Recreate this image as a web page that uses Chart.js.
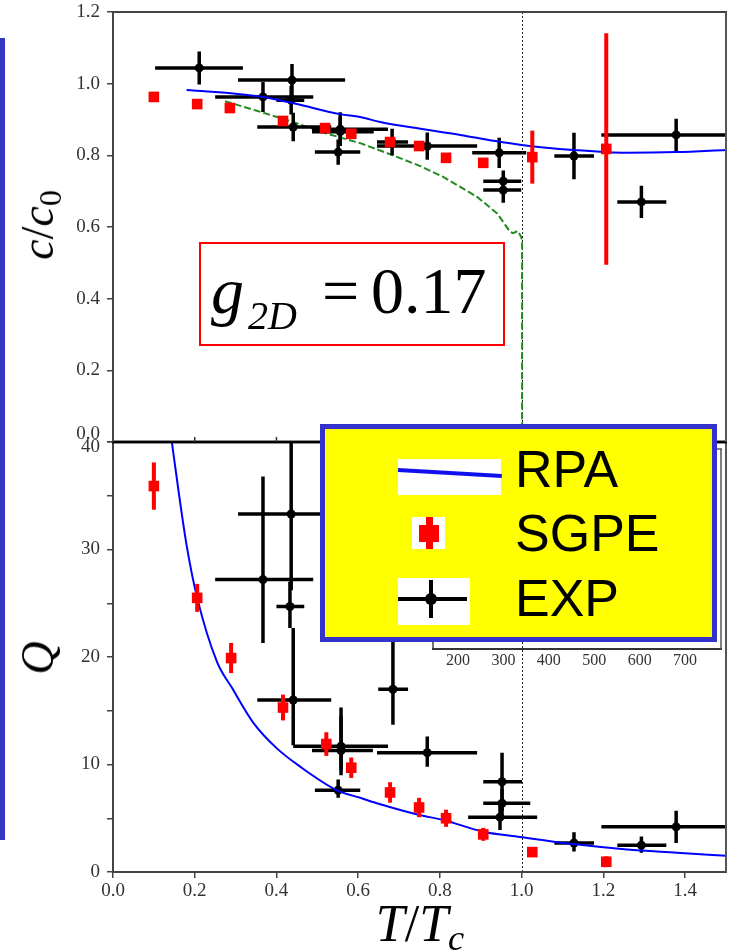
<!DOCTYPE html>
<html>
<head>
<meta charset="utf-8">
<script src="https://cdn.jsdelivr.net/npm/chart.js@4.4.1/dist/chart.umd.min.js"></script>
<style>
  html, body { margin: 0; padding: 0; background: #fff; }
  body { width: 734px; height: 952px; position: relative; overflow: hidden; font-family: "Liberation Serif", serif; }
  canvas, .abs { position: absolute; }
  #cBot { left: 0; top: 430px; }
  #cTop { left: 0; top: 0; }
  #cInset { left: 423px; top: 440px; }
  .serif { font-family: "Liberation Serif", serif; line-height: 1; white-space: nowrap; color: #000; }
  .sans { font-family: "Liberation Sans", Arial, sans-serif; line-height: 1; white-space: nowrap; color: #000; font-size: 52px; }
  sub { font-size: 0.7em; vertical-align: -0.25em; line-height: 0; }
  .ytitle { font-size: 46px; transform: translate(-50%, -50%) rotate(-90deg); }
  #sidebar { left: 0; top: 38px; width: 5px; height: 802px; background: #3636c6; }
  #g2d { left: 199px; top: 242px; width: 306px; height: 104px; border: 2px solid #ff0000; box-sizing: border-box; }
  #legend { left: 320px; top: 424px; width: 397px; height: 218px; border: 5px solid #3333cc; background: #ffff00; box-sizing: border-box; }
  .white { background: #fff; }
</style>
</head>
<body>
<canvas id="cBot" width="734" height="522"></canvas>
<canvas id="cTop" width="734" height="470"></canvas>
<canvas id="cInset" width="310" height="240"></canvas>

<div id="sidebar" class="abs"></div>

<div class="abs serif ytitle" style="left:38px; top:225px;"><i>c</i>/<i>c</i><sub>0</sub></div>
<div class="abs serif ytitle" style="left:38px; top:658px;"><i>Q</i></div>
<div class="abs serif" style="left:420px; top:898px; font-size:52px; transform: translateX(-50%);"><i>T</i>/<i>T<sub>c</sub></i></div>

<div id="g2d" class="abs"></div>
<span class="abs serif" style="left:211px; top:258px; font-size:66px;"><i>g</i></span>
<span class="abs serif" style="left:248px; top:296px; font-size:40px;"><i>2D</i></span>
<span class="abs serif" style="left:322px; top:258px; font-size:66px;">=</span>
<span class="abs serif" style="left:371px; top:258px; font-size:66px;">0.17</span>

<div id="legend" class="abs"></div>
<div class="abs white" style="left:398px; top:459px; width:103px; height:36px;"></div>
<div class="abs" style="left:398px; top:468px; width:104px; height:4px; background:#1010ee; transform-origin:left center; transform:rotate(3.3deg);"></div>
<div class="abs white" style="left:412px; top:517px; width:33px; height:32px;"></div>
<div class="abs" style="left:419px; top:525px; width:20px; height:17px; background:#ff0000;"></div>
<div class="abs" style="left:426px; top:517px; width:7px; height:32px; background:#ff0000;"></div>
<div class="abs white" style="left:398px; top:578px; width:72px; height:47px;"></div>
<div class="abs" style="left:398px; top:597px; width:69px; height:4px; background:#000;"></div>
<div class="abs" style="left:429px; top:580px; width:4px; height:38px; background:#000;"></div>
<div class="abs" style="left:425px; top:593px; width:12px; height:12px; background:#000; border-radius:50%;"></div>
<span class="abs sans" style="left:515px; top:443px;">RPA</span>
<span class="abs sans" style="left:515px; top:507px;">SGPE</span>
<span class="abs sans" style="left:515px; top:572px;">EXP</span>

<script>
// tick values and labels
const xTicks = [0, 0.2, 0.4, 0.6, 0.8, 1.0, 1.2, 1.4];
const xTickLabels = ['0.0', '0.2', '0.4', '0.6', '0.8', '1.0', '1.2', '1.4'];
const cTicks = [0, 0.2, 0.4, 0.6, 0.8, 1.0, 1.2];
const cTickLabels = ['0.0', '0.2', '0.4', '0.6', '0.8', '1.0', '1.2'];
const qTicks = [0, 5, 10, 15, 20, 25, 30, 35, 40];
const qTickLabels = ['0', '', '10', '', '20', '', '30', '', '40'];
const insetTicks = [200, 300, 400, 500, 600, 700];
const tcLine = 1.0;

// top panel: c/c0
const rpaTopT = [0.18, 0.25, 0.30, 0.367, 0.45, 0.556, 0.605, 0.654, 0.752, 0.85, 0.93, 1.0, 1.126, 1.258, 1.38, 1.5];
const rpaTopC = [0.982, 0.977, 0.972, 0.963, 0.943, 0.915, 0.907, 0.893, 0.874, 0.857, 0.841, 0.829, 0.815, 0.807, 0.809, 0.815];

const greenT = [0.274, 0.35, 0.441, 0.519, 0.605, 0.685, 0.752, 0.808, 0.891, 0.94, 0.972, 0.979, 0.991, 0.999, 1.001, 1.001];
const greenC = [0.951, 0.925, 0.893, 0.862, 0.834, 0.80, 0.77, 0.74, 0.684, 0.638, 0.586, 0.583, 0.589, 0.572, 0.56, 0.0];

const sgpeTopT = [0.100, 0.206, 0.286, 0.416, 0.519, 0.583, 0.678, 0.749, 0.815, 0.906, 1.026, 1.207];
const sgpeTopC = [0.963, 0.943, 0.932, 0.896, 0.876, 0.860, 0.837, 0.826, 0.793, 0.779, 0.795, 0.818];
const sgpeTopErr = [0, 0, 0, 0, 0, 0, 0, 0, 0, 0, 0.074, 0.323];

const expTopT = [0.211, 0.438, 0.367, 0.436, 0.441, 0.556, 0.556, 0.551, 0.683, 0.769, 0.945, 0.955, 0.955, 1.128, 1.293, 1.378];
const expTopC = [1.044, 1.010, 0.963, 0.954, 0.879, 0.873, 0.866, 0.809, 0.837, 0.826, 0.807, 0.728, 0.703, 0.798, 0.670, 0.857];
const expTopTLo = [0.103, 0.306, 0.250, 0.400, 0.353, 0.487, 0.487, 0.494, 0.646, 0.646, 0.879, 0.906, 0.906, 1.080, 1.234, 1.195];
const expTopTHi = [0.318, 0.568, 0.490, 0.468, 0.534, 0.673, 0.638, 0.605, 0.722, 0.891, 1.011, 0.999, 0.999, 1.177, 1.354, 1.503];
const expTopErr = [0.046, 0.045, 0.042, 0.040, 0.040, 0.047, 0.040, 0.035, 0.037, 0.038, 0.042, 0.030, 0.035, 0.065, 0.045, 0.045];

// bottom panel: Q
const rpaBotT = [0.144, 0.162, 0.181, 0.206, 0.255, 0.29, 0.343, 0.401, 0.458, 0.548, 0.605, 0.654, 0.75, 0.808, 0.906, 0.996, 1.126, 1.258, 1.38, 1.503];
const rpaBotQ = [40, 35.0, 30.2, 25.5, 19.5, 17.2, 13.9, 11.5, 9.8, 7.6, 6.9, 6.3, 5.3, 4.84, 3.75, 3.26, 2.6, 2.1, 1.8, 1.5];

const sgpeBotT = [0.100, 0.206, 0.289, 0.416, 0.522, 0.583, 0.678, 0.749, 0.815, 0.906, 1.026, 1.207];
const sgpeBotQ = [35.9, 25.5, 19.9, 15.3, 11.9, 9.7, 7.4, 6.0, 5.0, 3.5, 1.85, 0.95];
const sgpeBotErr = [2.2, 1.3, 1.4, 1.2, 1.1, 0.95, 0.95, 0.9, 0.8, 0.6, 0, 0.5];

const expBotT = [0.436, 0.367, 0.433, 0.441, 0.558, 0.558, 0.551, 0.685, 0.769, 0.952, 0.952, 0.947, 1.128, 1.293, 1.378];
const expBotQ = [33.3, 27.2, 24.7, 16.0, 11.7, 11.3, 7.6, 17.0, 11.1, 8.4, 6.4, 5.1, 2.7, 2.5, 4.2];
const expBotTLo = [0.306, 0.250, 0.400, 0.353, 0.441, 0.487, 0.494, 0.649, 0.646, 0.906, 0.906, 0.869, 1.080, 1.234, 1.195];
const expBotTHi = [0.568, 0.490, 0.468, 0.534, 0.673, 0.636, 0.605, 0.722, 0.891, 1.001, 1.021, 1.038, 1.177, 1.354, 1.503];
const expBotQLo = [26.2, 21.3, 22.7, 11.8, 9.0, 9.5, 6.9, 13.7, 9.8, 5.7, 5.1, 3.9, 1.9, 1.8, 2.7];
const expBotQHi = [40.5, 36.8, 27.0, 22.7, 15.3, 14.5, 8.6, 22.5, 12.6, 11.1, 7.7, 6.4, 3.7, 3.3, 5.7];

// inset axis range
const insetMin = 145;
const insetMax = 779;


// build point lists
const pts = (xs, ys) => xs.map((x, i) => ({ x: x, y: ys[i] }));

const sgpeTop = sgpeTopT.map((t, i) => ({ x: t, y: sgpeTopC[i], yMin: sgpeTopC[i] - sgpeTopErr[i], yMax: sgpeTopC[i] + sgpeTopErr[i] }));
const sgpeBot = sgpeBotT.map((t, i) => ({ x: t, y: sgpeBotQ[i], yMin: sgpeBotQ[i] - sgpeBotErr[i], yMax: sgpeBotQ[i] + sgpeBotErr[i] }));
const expTop = expTopT.map((t, i) => ({ x: t, y: expTopC[i], xMin: expTopTLo[i], xMax: expTopTHi[i], yMin: expTopC[i] - expTopErr[i], yMax: expTopC[i] + expTopErr[i] }));
const expBot = expBotT.map((t, i) => ({ x: t, y: expBotQ[i], xMin: expBotTLo[i], xMax: expBotTHi[i], yMin: expBotQLo[i], yMax: expBotQHi[i] }));

const tickFont = { family: 'Liberation Serif', size: 19 };

// keep the plot area where the layout padding puts it (labels may hang over)
const noOverhang = s => { s.paddingTop = 0; s.paddingBottom = 0; s.paddingLeft = 0; s.paddingRight = 0; };

// error bars, drawn just before each dataset's own points
const errorBarPlugin = {
  id: 'errorBars',
  beforeDatasetDraw(chart, args) {
    const ds = chart.data.datasets[args.index];
    if (!ds.errorBars) return;
    const { ctx, chartArea: a } = chart;
    const x = chart.scales.x, y = chart.scales.y;
    ctx.save();
    ctx.beginPath();
    ctx.rect(a.left, a.top, a.width, a.height);
    ctx.clip();
    ctx.strokeStyle = ds.errorBars.color;
    ctx.lineWidth = ds.errorBars.width;
    ctx.lineCap = 'butt';
    ds.data.forEach(p => {
      const px = x.getPixelForValue(p.x), py = y.getPixelForValue(p.y);
      ctx.beginPath();
      if (p.xMin !== undefined) {
        ctx.moveTo(x.getPixelForValue(p.xMin), py);
        ctx.lineTo(x.getPixelForValue(p.xMax), py);
      }
      if (p.yMin !== undefined && p.yMin !== p.yMax) {
        ctx.moveTo(px, y.getPixelForValue(p.yMin));
        ctx.lineTo(px, y.getPixelForValue(p.yMax));
      }
      ctx.stroke();
    });
    ctx.restore();
  }
};

// frame around the plot area, inner ticks and the dotted T = Tc line
function makeFrame(cfg) {
  return {
    id: 'frame',
    beforeDatasetsDraw(chart) {
      if (!cfg.tc) return;
      const { ctx, chartArea: a } = chart;
      const px = Math.round(chart.scales.x.getPixelForValue(tcLine)) + 0.5;
      ctx.save();
      ctx.strokeStyle = '#222';
      ctx.lineWidth = 1;
      ctx.setLineDash([2, 2]);
      ctx.beginPath();
      ctx.moveTo(px, a.top);
      ctx.lineTo(px, a.bottom);
      ctx.stroke();
      ctx.restore();
    },
    afterDatasetsDraw(chart) {
      const { ctx, chartArea: a } = chart;
      ctx.save();
      const line = (s, x1, y1, x2, y2) => {
        if (!s) return;
        ctx.strokeStyle = s[0];
        ctx.lineWidth = s[1];
        ctx.beginPath();
        ctx.moveTo(x1, y1);
        ctx.lineTo(x2, y2);
        ctx.stroke();
      };
      line(cfg.top, a.left - 1, a.top, a.right + 1, a.top);
      line(cfg.bottom, a.left - 1, a.bottom, a.right + 1, a.bottom);
      line(cfg.left, a.left, a.top, a.left, a.bottom);
      line(cfg.right, a.right, a.top, a.right, a.bottom);
      if (cfg.innerTicks) {
        ctx.strokeStyle = '#333';
        ctx.lineWidth = 1.5;
        xTicks.slice(1).forEach(v => {
          const px = chart.scales.x.getPixelForValue(v);
          ctx.beginPath();
          ctx.moveTo(px, a.bottom);
          ctx.lineTo(px, a.bottom - 5);
          ctx.stroke();
        });
      }
      ctx.restore();
    }
  };
}

const baseOptions = {
  responsive: false,
  animation: false,
  events: [],
  plugins: { legend: { display: false }, tooltip: { enabled: false } }
};

// top panel
new Chart(document.getElementById('cTop'), {
  type: 'scatter',
  data: {
    datasets: [
      { label: 'SGPE', data: sgpeTop, pointStyle: 'rect', pointRadius: 7.5, backgroundColor: '#ff0000', borderWidth: 0, errorBars: { color: '#ff0000', width: 4 } },
      { label: 'RPA', data: pts(rpaTopT, rpaTopC), showLine: true, borderColor: '#0000ff', borderWidth: 2, pointRadius: 0, cubicInterpolationMode: 'monotone' },
      { label: 'EXP', data: expTop, pointRadius: 4.5, backgroundColor: '#000', borderWidth: 0, errorBars: { color: '#000', width: 3.5 } },
      { label: 'SGPE c', data: pts(greenT, greenC), showLine: true, borderColor: '#228b22', borderWidth: 2, borderDash: [7, 3], pointRadius: 0 }
    ]
  },
  options: {
    ...baseOptions,
    layout: { padding: { left: 0, right: 8, top: 12, bottom: 0 } },
    scales: {
      x: {
        type: 'linear', min: 0, max: 1.5,
        ticks: { display: false },
        grid: { display: false, drawTicks: false },
        border: { display: false },
        afterFit: s => { s.height = 28; noOverhang(s); }
      },
      y: {
        min: 0, max: 1.2,
        afterBuildTicks: s => { s.ticks = cTicks.map(v => ({ value: v })); },
        ticks: {
          color: '#333', padding: 7,
          // the 0.0 label sits a little above its tick, clear of the Q axis "40"
          font: c => c.index === 0 ? { ...tickFont, lineHeight: 0.85 } : tickFont,
          callback: (v, i) => i === 0 ? [cTickLabels[i], ''] : cTickLabels[i]
        },
        grid: { drawOnChartArea: false, tickLength: 6, color: '#444', lineWidth: 1.5 },
        border: { display: false },
        afterFit: s => { s.width = 113; noOverhang(s); }
      }
    }
  },
  plugins: [errorBarPlugin, makeFrame({ tc: true, innerTicks: true, top: ['#444', 2], left: ['#444', 2], right: ['#555', 2], bottom: ['#000', 2.5] })]
});

// bottom panel
new Chart(document.getElementById('cBot'), {
  type: 'scatter',
  data: {
    datasets: [
      { label: 'SGPE', data: sgpeBot, pointStyle: 'rect', pointRadius: 7.5, backgroundColor: '#ff0000', borderWidth: 0, errorBars: { color: '#ff0000', width: 4 } },
      { label: 'RPA', data: pts(rpaBotT, rpaBotQ), showLine: true, borderColor: '#0000ff', borderWidth: 2, pointRadius: 0, cubicInterpolationMode: 'monotone' },
      { label: 'EXP', data: expBot, pointRadius: 4.5, backgroundColor: '#000', borderWidth: 0, errorBars: { color: '#000', width: 3.5 } }
    ]
  },
  options: {
    ...baseOptions,
    layout: { padding: { left: 0, right: 8, top: 12, bottom: 0 } },
    scales: {
      x: {
        type: 'linear', min: 0, max: 1.5,
        afterBuildTicks: s => { s.ticks = xTicks.map(v => ({ value: v })); },
        ticks: { font: tickFont, color: '#333', padding: 2, maxRotation: 0, callback: (v, i) => xTickLabels[i] },
        grid: { drawOnChartArea: false, tickLength: 6, color: '#444', lineWidth: 1.5 },
        border: { display: false },
        afterFit: s => { s.height = 80; noOverhang(s); }
      },
      y: {
        min: 0, max: 40,
        afterBuildTicks: s => { s.ticks = qTicks.map(v => ({ value: v })); },
        ticks: {
          color: '#333', padding: 7, autoSkip: false,
          // the top label "40" sits a little below its tick
          font: c => c.index === qTicks.length - 1 ? { ...tickFont, lineHeight: 0.55 } : tickFont,
          callback: (v, i) => i === qTicks.length - 1 ? ['', qTickLabels[i]] : qTickLabels[i]
        },
        grid: { drawOnChartArea: false, tickLength: 6, color: '#444', lineWidth: 1.5 },
        border: { display: false },
        afterFit: s => { s.width = 113; noOverhang(s); }
      }
    }
  },
  plugins: [errorBarPlugin, makeFrame({ tc: true, top: ['#000', 2.5], left: ['#444', 2], right: ['#555', 2], bottom: ['#444', 2] })]
});

// inset, mostly hidden behind the legend
new Chart(document.getElementById('cInset'), {
  type: 'scatter',
  data: { datasets: [{ data: [] }] },
  options: {
    ...baseOptions,
    layout: { padding: { left: 10, right: 12, top: 9, bottom: 0 } },
    scales: {
      x: {
        type: 'linear', min: insetMin, max: insetMax,
        afterBuildTicks: s => { s.ticks = insetTicks.map(v => ({ value: v })); },
        ticks: { font: { family: 'Liberation Serif', size: 16 }, color: '#333', padding: 2, maxRotation: 0 },
        grid: { display: false, drawTicks: false },
        border: { display: false },
        afterFit: s => { s.height = 31; noOverhang(s); }
      },
      y: { display: false }
    }
  },
  plugins: [makeFrame({ top: ['#555', 1.5], left: ['#444', 1.5], right: ['#555', 1.5], bottom: ['#333', 2] })]
});
</script>
</body>
</html>
